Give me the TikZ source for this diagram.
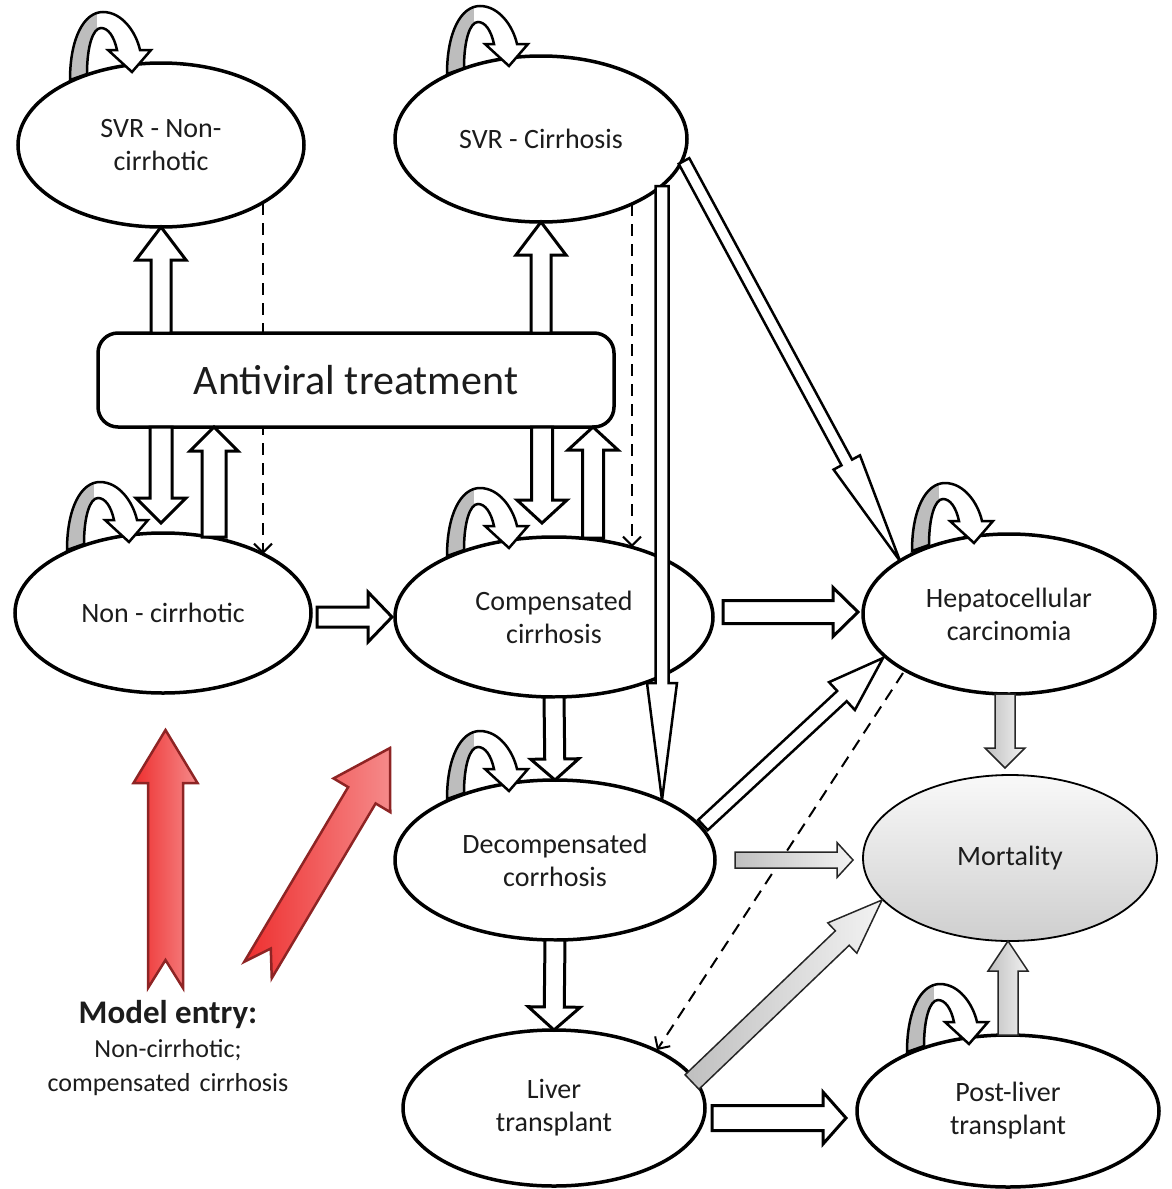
\documentclass[tikz,border=0pt]{standalone}
\usepackage{fontspec}
\setmainfont{Carlito}
\usetikzlibrary{calc,arrows.meta,backgrounds,shapes.geometric}
\definecolor{txt}{HTML}{1C1C1C}
\definecolor{redline}{HTML}{8E2424}
\definecolor{redA}{HTML}{EE2F2F}
\definecolor{redB}{HTML}{F58A8A}
\definecolor{loopgray}{HTML}{BDBDBD}

\tikzset{
 state/.style={ellipse, draw=black, line width=3.5pt, fill=white, align=center, inner sep=0pt, outer sep=0pt, text=txt, font=\fontsize{28}{33}\selectfont},
 mortstate/.style={line width=1.8pt, top color=gray!5, bottom color=gray!38},
 treatbox/.style={draw=black, line width=3.5pt, fill=white, rounded corners=20pt, minimum width=516pt, minimum height=94pt, inner sep=0pt, outer sep=0pt, text=txt, font=\fontsize{42}{48}\selectfont},
 blk/.style={draw=black, line width=3pt, fill=white, line join=miter, miter limit=5},
 thinblk/.style={blk, line width=2.5pt},
 gry/.style={draw=black!85, line width=1.5pt, left color=gray!50, right color=gray!10, line join=miter},
 redarr/.style={draw=redline, line width=2.5pt, left color=redA, right color=redB, line join=miter},
 dsh/.style={draw=black, line width=2pt, dash pattern=on 12pt off 8pt, -{Straight Barb[length=9pt, width=18pt, line width=2pt]}},
 looppath/.style={insert path={(0,2) .. controls (0,-40) and (14,-66) .. (33,-66) .. controls (52,-66) and (66,-46) .. (70,-28) -- (81,-28) -- (62,-6) -- (38,-28) -- (47,-28) .. controls (44,-42) and (38,-50) .. (31,-50) .. controls (23,-50) and (17,-32) .. (17,-4) -- cycle}},
 loopline/.style={draw=black, line width=2.5pt, line join=miter},
}

% block arrow: [style]{tail}{tip}{shaft half width}{head half width}{head length}
\newcommand{\barrow}[6][blk]{%
  \coordinate (ba-t) at #2;
  \coordinate (ba-e) at #3;
  \coordinate (ba-b) at ($(ba-e)!#6!(ba-t)$);
  \path[#1] ($(ba-t)!#4!90:(ba-e)$) -- ($(ba-b)!#4!-90:(ba-t)$) -- ($(ba-b)!#5!-90:(ba-t)$) -- (ba-e) -- ($(ba-b)!#5!90:(ba-t)$) -- ($(ba-b)!#4!90:(ba-t)$) -- ($(ba-t)!#4!-90:(ba-e)$) -- cycle;}

% notched block arrow: [style]{tail}{tip}{w}{h}{l}{notch depth}
\newcommand{\narrow}[7][redarr]{%
  \coordinate (ba-t) at #2;
  \coordinate (ba-e) at #3;
  \coordinate (ba-b) at ($(ba-e)!#6!(ba-t)$);
  \coordinate (ba-n) at ($(ba-t)!#7!(ba-e)$);
  \path[#1] ($(ba-t)!#4!90:(ba-e)$) -- ($(ba-b)!#4!-90:(ba-t)$) -- ($(ba-b)!#5!-90:(ba-t)$) -- (ba-e) -- ($(ba-b)!#5!90:(ba-t)$) -- ($(ba-b)!#4!90:(ba-t)$) -- ($(ba-t)!#4!-90:(ba-e)$) -- (ba-n) -- cycle;}

\newcommand{\selfloop}[1]{%
  \begin{scope}[shift={#1}]
    \fill[white, looppath];
    \begin{scope}
      \clip[looppath];
      \fill[loopgray] (-6,8) rectangle (27,-72);
    \end{scope}
    \path[loopline, looppath];
  \end{scope}}

\begin{document}
\begin{tikzpicture}[x=1pt, y=-1pt]
\useasboundingbox (0,0) rectangle (1171,1189);

% states
\node[state, minimum width=286pt, minimum height=164pt] (svrn) at (161,145) {SVR - Non-\\cirrhotic};
\node[state, minimum width=292pt, minimum height=166pt] (svrc) at (541,139) {SVR - Cirrhosis};
\node[treatbox] (avt) at (356,380) {Antiviral treatment};
\node[state, minimum width=296pt, minimum height=160pt] (nc) at (163,613) {Non - cirrhotic};
\node[state, minimum width=318pt, minimum height=160pt] (comp) at (554,617) {Compensated\\cirrhosis};
\node[state, minimum width=292pt, minimum height=160pt] (hcc) at (1009,614) {Hepatocellular\\carcinomia};
\node[state, mortstate, minimum width=294pt, minimum height=166pt] (mort) at (1010,858) {Mortality};
\node[state, minimum width=320pt, minimum height=160pt] (decomp) at (555,860) {Decompensated\\corrhosis};
\node[state, minimum width=302pt, minimum height=156pt] (liver) at (554,1108) {Liver\\transplant};
\node[state, minimum width=302pt, minimum height=152pt] (post) at (1008,1111) {Post-liver\\transplant};

\node[anchor=north, align=center, inner sep=0pt, text=txt, font=\fontsize{26}{34}\selectfont] (entry) at (168,1000)
  {{\fontsize{33}{35}\selectfont\bfseries Model entry:}\\Non-cirrhotic;\\compensated\hspace{9pt}cirrhosis};

% dashed transitions (behind the treatment box)
\begin{scope}[on background layer]
  \draw[dsh] ($(svrn.center)+(102,58)$) -- ($(nc.center)+(100,-59)$);
  \draw[dsh] ($(svrc.center)+(91,65)$) -- ($(comp.center)+(78,-70)$);
  \draw[dsh] ($(hcc.center)+(-106,59)$) -- ($(liver.center)+(103,-58)$);
\end{scope}

% self loops
\selfloop{(70,78)}
\selfloop{(447,72)}
\selfloop{(67,548)}
\selfloop{(447,554)}
\selfloop{(447,797)}
\selfloop{(912,549)}
\selfloop{(907,1050)}

% treatment arrows
\barrow{(svrn |- avt.north)}{(svrn.south)}{10pt}{25pt}{33pt}
\barrow{(svrc |- avt.north)}{(svrc.south)}{10pt}{25pt}{33pt}
\barrow{($(nc |- avt.south)+(-2,0)$)}{($(nc.north)+(-2,-10)$)}{11pt}{25pt}{25pt}
\coordinate (a4) at ($(nc.center)+(51,-76)$);
\barrow{(a4)}{(a4 |- avt.south)}{12pt}{24pt}{24pt}
\barrow{($(comp |- avt.south)+(-12,0)$)}{($(comp.north)+(-12,-14)$)}{10.5pt}{25pt}{23pt}
\coordinate (a6) at ($(comp.center)+(39,-79)$);
\barrow{(a6)}{(a6 |- avt.south)}{10.5pt}{25pt}{23pt}

% disease progression
\barrow{($(nc.east)+(6,4)$)}{($(comp.west)+(-3,0)$)}{10pt}{25pt}{24pt}
\barrow{($(comp.east)+(10,-5)$)}{($(hcc.west)+(-5,-2)$)}{11.5pt}{24.5pt}{25pt}
\barrow{(comp.south)}{(decomp.north)}{10pt}{24pt}{21pt}
\barrow{(decomp.south)}{(liver.north)}{10pt}{26pt}{23pt}
\barrow{($(liver.east)+(7,10)$)}{($(post.west)+(-11,7)$)}{12.5pt}{26pt}{23pt}
\barrow[thinblk]{($(svrc.center)+(121,47)$)}{($(decomp.center)+(107,-60)$)}{6.5pt}{15pt}{117pt}
\barrow[thinblk]{($(svrc.center)+(143,22)$)}{($(hcc.center)+(-109,-53)$)}{6pt}{15pt}{112pt}
\barrow[thinblk]{($(decomp.center)+(148,-35)$)}{($(hcc.center)+(-126,44)$)}{7pt}{19pt}{56pt}

% mortality
\barrow[gry]{($(decomp.east)+(20,0)$)}{($(mort.west)+(-10,2)$)}{8pt}{17.5pt}{16pt}
\barrow[gry]{($(hcc.south)+(-4,0)$)}{($(mort.north)+(-5,-7)$)}{10pt}{20pt}{20pt}
\barrow[gry]{($(liver.center)+(138,-26)$)}{($(mort.center)+(-128,42)$)}{10pt}{21pt}{55pt}
\barrow[gry]{(post.north)}{(post.north |- mort.south)}{10pt}{20pt}{30pt}

% model entry arrows
\coordinate (r1s) at (165.5,988);
\coordinate (r1e) at (165.5,730);
\coordinate (r2s) at (258,970);
\coordinate (r2e) at (390,748);
\narrow{(r1s)}{(r1e)}{17.5pt}{32pt}{53pt}{28pt}
\narrow{(r2s)}{(r2e)}{16pt}{33pt}{55pt}{25pt}
\end{tikzpicture}
\end{document}
